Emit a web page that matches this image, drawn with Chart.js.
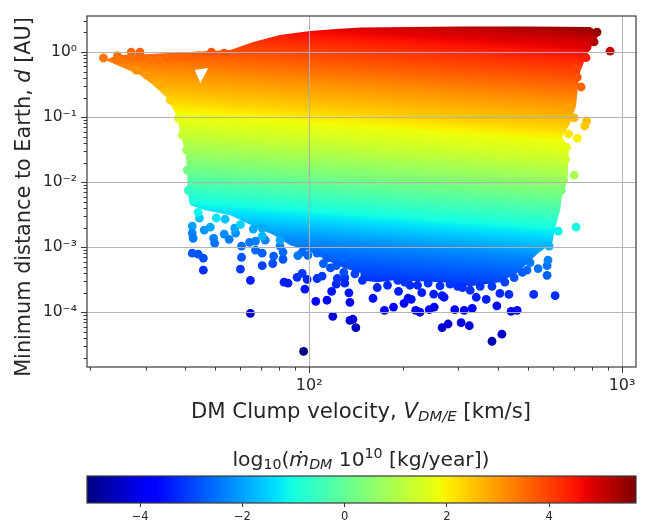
<!DOCTYPE html>
<html><head><meta charset="utf-8">
<style>html,body{margin:0;padding:0;background:#fff;width:647px;height:523px;overflow:hidden}
canvas{position:absolute;left:0;display:block}</style>
<script src="https://cdn.jsdelivr.net/npm/chart.js@4/dist/chart.umd.js"></script>
</head><body>
<canvas id="main" width="647" height="430" style="top:0"></canvas>
<canvas id="bar" width="647" height="93" style="top:430px"></canvas>
<script>
// Isolated clumps: velocity [km/s], minimum distance [AU], log10 accretion rate
const pointV=[42.6,44.6,42.3,46.2,48.3,42.3,42.6,49.5,49.9,53.5,55.5,58.2,57.8,53.9,66.3,70.8,60.8,64.5,67.4,72.4,67.4,70.8,42.3,44.2,45.9,45.9,60.8,60.3,64.9,77,82.5,76.5,70.8,82.5,80.7,83.1,85.6,91.5,95,98.5,96.9,105,114,106,110,118,122,123,130,130,134,135,119,135,138,141,64.9,96,117,122,95,99,106,114,129,140,
160,174,186,201,193,207,212,219,226,242,251,266,270,266,278,306,325,292,313,332,342,368,398,442,462,413,384,407,435,522,611,576,539,497,576,580,585,625,713,229,250,210,165,178,192,298,327,384,452,148,
832,814,916,773,767,713,719,740,675,703,770,760,675,720,665,660,703,650,640,
22,24.4,24.6,27,28.8,27.2,28.8,31,33.1,35.2,37.9,40.8,44,48.7,53.5,28,30.3,33.4,36,38.2,39.3,40.6,40.8,41.1,
202,222,240,262,282,309,352,422,480,508,129,111,92,80.7,70.8,60.3,50.5,44.2];
const pointD=[.00529,.00279,.00211,.00183,.00203,.00165,.00137,.00137,.00115,.00159,.00132,.00165,.00197,.00269,.0019,.00197,.00104,.00119,.00124,.00128,.0009,.00081,.00081,.00078,.00068,.000443,.0007,.00046,.00031,.00073,.00065,.00056,.00052,.00084,.00104,.00029,.00028,.000344,.000396,.00032,.000226,.000147,.000153,.00033,.00036,.00021,.00027,.00033,.00034,.00028,.000199,.000142,8.65e-5,7.5e-5,7.8e-5,5.8e-5,9.6e-5,2.5e-5,.00048,.00052,.00084,.00075,.00081,.00068,.0007,.00039,
.000164,.000107,.00012,.000137,.00021,.000164,.000158,.000107,.0001,.00011,.00012,.00018,.00017,5.8e-5,6.6e-5,6.9e-5,6.2e-5,.00011,.000107,.000115,.00017,.000158,.000125,.000103,.000107,4.6e-5,3.58e-5,.000195,.000188,.000188,.00018,.00037,.00047,.000443,.00052,.00063,.00104,.00176,.00203,.0002,.00019,.00026,.00024,.00026,.00031,.00025,.000218,.00025,.00034,.00031,
2.03,1.43,1.03,1.19,.82,.56,.41,.29,.137,.0975,.087,.073,.055,.0475,.0345,.0226,.0128,.0107,.0075,
.81,.87,.753,1,1,.84,.81,.753,.753,.81,.84,.84,.87,1,.965,.529,.443,.32,.183,.096,.0528,.031,.0153,.0075,
.00029,.00026,.00028,.000255,.00027,.00024,.00025,.00029,.00041,.00058,.00041,.00056,.00074,.00128,.00148,.00222,.00281,.00343];
const pointM=[-.9,-1.64,-2,-2.1,-1.96,-2.3,-2.4,-2.35,-2.5,-2.2,-2.35,-2.15,-1.95,-1.65,-1.9,-1.9,-2.5,-2.4,-2.35,-2.3,-2.6,-2.7,-2.8,-2.8,-2.9,-3.2,-2.8,-3.1,-3.4,-2.7,-2.8,-2.9,-3,-2.6,-2.4,-3.4,-3.4,-3.2,-3.1,-3.3,-3.5,-3.8,-3.75,-3.2,-3.1,-3.5,-3.3,-3.15,-3.1,-3.3,-3.5,-3.8,-4.2,-4.25,-4.2,-4.45,-4.27,-5.05,-2.9,-2.8,-2.6,-2.6,-2.6,-2.7,-2.6,-3,
-3.6,-3.9,-3.8,-3.7,-3.4,-3.55,-3.55,-3.85,-3.9,-3.8,-3.75,-3.45,-3.5,-4.3,-4.2,-4.1,-4.2,-3.75,-3.75,-3.7,-3.4,-3.4,-3.6,-3.7,-3.65,-4.3,-4.6,-3.25,-3.25,-3.2,-3.2,-2.7,-2.5,-2.6,-2.5,-2.3,-1.8,-1.15,-.95,-3.4,-3.4,-3.2,-3.35,-3.25,-3.1,-3.2,-3.2,-3.1,-2.8,-3.2,
5.5,5.2,5,4.9,4.4,4,3.8,3.6,2.9,2.6,2.6,2.45,2.1,2,1.7,1.4,.9,.7,.35,
3.4,3.5,3.4,3.6,3.7,3.5,3.5,3.45,3.45,3.55,3.6,3.6,3.65,3.8,3.8,3.1,3,2.8,2.35,1.7,1.3,.8,.15,-.6,
-3.15,-3.25,-3.15,-3.2,-3.15,-3.2,-3.15,-3,-2.7,-2.4,-2.9,-2.7,-2.45,-1.95,-1.75,-1.5,-1.3,-1.1];
// Outline of the dense part of the cloud
const cloudV=[24.5,31,41.7,56,66.3,80.7,100.7,122,146,304,497,791,851,791,760,734,722,713,682,643,675,670,642,634,615,598,539,462,407,327,268,186,165,146,146,129,118,98.5,86.9,77,64.9,56,46.6,41.7,41,40.8,40.3,38.7,37.9,35.2,31.7,28.8,25.1,22.3];
const cloudD=[.9,.93,1,1.07,1.43,1.83,2.1,2.26,2.38,2.47,2.47,2.42,1.96,1.15,.753,.49,.29,.148,.08,.049,.0345,.0107,.0059,.0037,.0022,.00115,.00081,.0004,.00029,.00025,.00029,.00031,.00029,.00031,.0004,.00048,.00058,.0009,.00107,.00154,.00222,.0031,.0037,.0044,.0064,.012,.028,.0569,.1,.195,.31,.443,.588,.753];
// Empty pocket inside the cloud
const holeV=[43.1,47.6,44.9];
const holeD=[.529,.567,.333];
// Colour read along one column of the cloud, at V = bandV
const bandV=218;
const bandD=[4.13,2.42,1.53,1,.529,.26,.104,.063,.0334,.01,.0031,.0017,.001,.00053,.0001,2.6e-5];
const bandM=[5.68,5,4.6,4.2,3.7,3.1,2.4,1.85,1.4,.3,-.9,-1.6,-2.2,-2.7,-3.9,-5.05];
const tilt=.07;
const xRange=[19.5,1108], yRange=[1.44e-5,3.58], colorRange=[-5.04,5.7];
const xDecades=[10,100,1000], yDecades=[1e-5,1e-4,1e-3,1e-2,1e-1,1];
const colorTicks=[-4,-2,0,2,4];
const supers={'0':'⁰','1':'¹','2':'²','3':'³','4':'⁴','5':'⁵','-':'⁻'};
const xTitle=[{t:'DM Clump velocity, '},{t:'V',i:1},{t:'DM/E',i:1,sub:1},{t:' [km/s]'}];
const yTitle=[{t:'Minimum distance to Earth, '},{t:'d',i:1},{t:' [AU]'}];
const barTitle=[{t:'log'},{t:'10',sub:1},{t:'('},{t:'ṁ',i:1},{t:'DM',i:1,sub:1},{t:' 10'},{t:'10',sup:1},{t:' [kg/year])'}];

const FONT='"DejaVu Sans"', INK='#262626', AXIS='#3a3a3a';
Chart.defaults.font.family=FONT;
function ramp(v,k){for(let i=1;i<k.length;i++){if(v<=k[i][0]){const a=k[i-1],b=k[i];return a[1]+(b[1]-a[1])*(v-a[0])/(b[0]-a[0]);}}return k[k.length-1][1];}
const R=[[0,0],[.35,0],[.66,1],[.89,1],[1,.5]],G=[[0,0],[.125,0],[.375,1],[.64,1],[.91,0],[1,0]],B=[[0,.5],[.11,1],[.34,1],[.65,0],[1,0]];
function jet(m){const f=Math.min(1,Math.max(0,(m-colorRange[0])/(colorRange[1]-colorRange[0])));
 return `rgb(${Math.round(255*ramp(f,R))},${Math.round(255*ramp(f,G))},${Math.round(255*ramp(f,B))})`;}
function logTicks(decades,range){const out=[];decades.forEach(d=>{for(let k=1;k<10;k++){const v=d*k;if(v>=range[0]&&v<=range[1])out.push({value:v});}});return out;}
const isDecade=v=>Math.abs(Math.log10(v)-Math.round(Math.log10(v)))<1e-6;
function decadeLabel(v){if(!isDecade(v))return '';const e=String(Math.round(Math.log10(v)));return '10'+[...e].map(c=>supers[c]).join('');}
function cloudFill(ctx){const c=ctx.chart;if(!c.chartArea||!c.scales.y)return 'rgba(0,0,0,0)';
 const xa=c.scales.x.getPixelForValue(bandV),ys=bandD.map(d=>c.scales.y.getPixelForValue(d));
 const y0=ys[0],yN=ys[ys.length-1],L=(yN-y0)/(1+tilt*tilt);
 const g=c.ctx.createLinearGradient(xa,y0,xa-tilt*L,y0+L);
 for(let i=0;i<ys.length-1;i++){for(let s=0;s<6;s++){const u=s/6;
  g.addColorStop((ys[i]+(ys[i+1]-ys[i])*u-y0)/(yN-y0),jet(bandM[i]+(bandM[i+1]-bandM[i])*u));}}
 g.addColorStop(1,jet(bandM[bandM.length-1]));return g;}
function rich(ctx,runs,cx,cy,size,rot){ctx.save();ctx.translate(cx,cy);ctx.rotate(rot||0);ctx.fillStyle=INK;ctx.textBaseline='alphabetic';ctx.textAlign='left';
 const fontOf=r=>`${r.i?'italic ':''}${(r.sub||r.sup)?size*.7:size}px ${FONT}`;let w=0;
 runs.forEach(r=>{ctx.font=fontOf(r);w+=ctx.measureText(r.t).width;});
 let x=-w/2;const base=size*.36;
 runs.forEach(r=>{ctx.font=fontOf(r);ctx.fillText(r.t,x,base+(r.sub?size*.15:r.sup?-size*.42:0));x+=ctx.measureText(r.t).width;});
 ctx.restore();}
const frame={id:'frame',afterDraw(c){const a=c.chartArea,x=c.ctx;x.save();x.strokeStyle=AXIS;x.lineWidth=1.2;
 x.strokeRect(a.left,a.top,a.right-a.left,a.bottom-a.top);
 if(c.canvas.id==='main'){x.lineWidth=1;
  c.scales.x.ticks.forEach(t=>{const p=Math.round(c.scales.x.getPixelForValue(t.value))+.5,l=isDecade(t.value)?6:3.5;x.beginPath();x.moveTo(p,a.bottom);x.lineTo(p,a.bottom+l);x.stroke();});
  c.scales.y.ticks.forEach(t=>{const p=Math.round(c.scales.y.getPixelForValue(t.value))+.5,l=isDecade(t.value)?6:3.5;x.beginPath();x.moveTo(a.left,p);x.lineTo(a.left-l,p);x.stroke();});
  rich(x,xTitle,361,410,21.2);rich(x,yTitle,23,197,20.8,-Math.PI/2);
 } else {rich(x,barTitle,361,29,20.3);}
 x.restore();}};
new Chart(document.getElementById('main'),{type:'scatter',
 data:{datasets:[
  {label:'clumps',order:0,data:pointV.map((v,i)=>({x:v,y:pointD[i]})),pointRadius:4.4,pointBorderWidth:0,pointBackgroundColor:pointM.map(jet),showLine:false},
  {label:'gap',order:1,data:holeV.map((v,i)=>({x:v,y:holeD[i]})),showLine:true,fill:'shape',backgroundColor:'#fff',borderWidth:0,pointRadius:0},
  {label:'cloud',order:2,data:cloudV.map((v,i)=>({x:v,y:cloudD[i]})),showLine:true,fill:'shape',backgroundColor:cloudFill,borderWidth:0,pointRadius:0}]},
 options:{responsive:false,animation:false,events:[],
  layout:{padding:{left:0,top:16,right:11,bottom:0}},
  plugins:{legend:{display:false},tooltip:{enabled:false}},
  scales:{
   x:{type:'logarithmic',min:xRange[0],max:xRange[1],afterBuildTicks:s=>{s.ticks=logTicks(xDecades,xRange);},afterFit:s=>{s.height=63;s.paddingLeft=0;s.paddingRight=0;},
    grid:{z:1,drawTicks:false,lineWidth:1,color:c=>c.tick&&isDecade(c.tick.value)?'rgba(176,176,176,.95)':'rgba(0,0,0,0)'},border:{display:false},
    ticks:{autoSkip:false,maxRotation:0,padding:9,color:INK,font:{size:16},callback:decadeLabel}},
   y:{type:'logarithmic',min:yRange[0],max:yRange[1],afterBuildTicks:s=>{s.ticks=logTicks(yDecades,yRange);},afterFit:s=>{s.width=87;s.paddingTop=0;s.paddingBottom=0;},
    grid:{z:1,drawTicks:false,lineWidth:1,color:c=>c.tick&&isDecade(c.tick.value)?'rgba(176,176,176,.95)':'rgba(0,0,0,0)'},border:{display:false},
    ticks:{autoSkip:false,padding:10,color:INK,font:{size:15.5},callback:decadeLabel}}}},
 plugins:[frame]});
new Chart(document.getElementById('bar'),{type:'bar',
 data:{labels:[''],datasets:[{data:[colorRange],barPercentage:1,categoryPercentage:1,borderWidth:0,backgroundColor:c=>{const ch=c.chart;if(!ch.chartArea)return '#fff';
   const g=ch.ctx.createLinearGradient(ch.chartArea.left,0,ch.chartArea.right,0);
   for(let i=0;i<=64;i++)g.addColorStop(i/64,jet(colorRange[0]+(colorRange[1]-colorRange[0])*i/64));return g;}}]},
 options:{indexAxis:'y',responsive:false,animation:false,events:[],
  layout:{padding:{left:87,top:46,right:11,bottom:0}},
  plugins:{legend:{display:false},tooltip:{enabled:false}},
  scales:{y:{type:'category',display:false},
   x:{type:'linear',min:colorRange[0],max:colorRange[1],afterBuildTicks:s=>{s.ticks=colorTicks.map(v=>({value:v}));},afterFit:s=>{s.height=20;},
    grid:{drawOnChartArea:false,tickLength:4,tickColor:AXIS},border:{display:false},
    ticks:{autoSkip:false,maxRotation:0,padding:3,color:INK,font:{size:11.5},callback:v=>String(v).replace('-','−')}}}},
 plugins:[frame]});
</script></body></html>
